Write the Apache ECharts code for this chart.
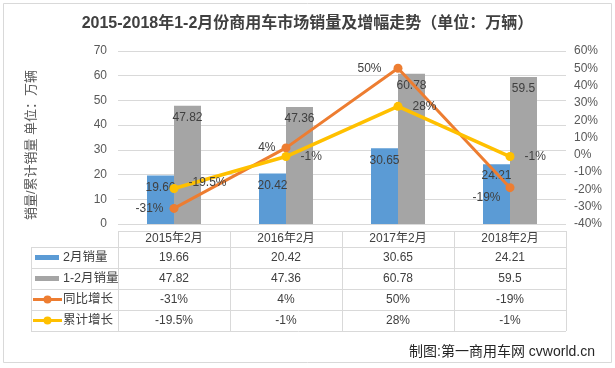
<!DOCTYPE html>
<html>
<head>
<meta charset="utf-8">
<script src="https://cdn.jsdelivr.net/npm/echarts@6/dist/echarts.min.js"></script>
<style>html,body{margin:0;padding:0;background:#fff}#c{width:615px;height:368px}</style>
</head>
<body>
<div id="c"></div>
<script>
var categories = ['2015年2月', '2016年2月', '2017年2月', '2018年2月'];
var febSales = [19.66, 20.42, 30.65, 24.21];
var janFebSales = [47.82, 47.36, 60.78, 59.5];
var yoyGrowth = [-31, 4, 50, -19];
var cumGrowth = [-19.5, -1, 28, -1];
var seriesNames = ['2月销量', '1-2月销量', '同比增长', '累计增长'];
var yAxisTitle = '销量/累计销量 单位：万辆';

var FONT = "'Liberation Sans','Noto Sans CJK SC',sans-serif";
var TXT = '#404040';
var AX = '#595959';
var GRID = '#d9d9d9';
var COLORS = ['#5B9BD5', '#A5A5A5', '#ED7D31', '#FFC000'];

var G = {left: 118, right: 566, top: 51, bottom: 224};
var rowTops = [231, 247, 268, 289, 310, 331];
var tableLeft = 31;

var chart = echarts.init(document.getElementById('c'), null, {renderer: 'canvas'});

var graphics = [];
graphics.push({type: 'rect', shape: {x: 3.5, y: 3.5, width: 608, height: 359}, style: {fill: null, stroke: GRID, lineWidth: 1}, silent: true});
graphics.push({type: 'line', shape: {x1: G.left, y1: rowTops[0] + 0.5, x2: G.right, y2: rowTops[0] + 0.5}, style: {stroke: GRID, lineWidth: 1}});
for (var r = 1; r < rowTops.length; r++) {
  graphics.push({type: 'line', shape: {x1: tableLeft, y1: rowTops[r] + 0.5, x2: G.right, y2: rowTops[r] + 0.5}, style: {stroke: GRID, lineWidth: 1}});
}
graphics.push({type: 'line', shape: {x1: tableLeft + 0.5, y1: rowTops[1], x2: tableLeft + 0.5, y2: rowTops[5]}, style: {stroke: GRID, lineWidth: 1}});
var colW = (G.right - G.left) / categories.length;
for (var c = 0; c <= categories.length; c++) {
  var x = Math.round(G.left + c * colW) + 0.5;
  graphics.push({type: 'line', shape: {x1: x, y1: rowTops[0], x2: x, y2: rowTops[5]}, style: {stroke: GRID, lineWidth: 1}});
}
for (var k = 0; k < 4; k++) {
  var cy = (rowTops[k + 1] + rowTops[k + 2]) / 2;
  if (k < 2) {
    graphics.push({type: 'rect', shape: {x: 35, y: cy - 2.5, width: 24, height: 5}, style: {fill: COLORS[k]}});
  } else {
    graphics.push({type: 'line', shape: {x1: 33, y1: cy, x2: 62, y2: cy}, style: {stroke: COLORS[k], lineWidth: 3}});
    graphics.push({type: 'circle', shape: {cx: 47.5, cy: cy, r: 4}, style: {fill: COLORS[k]}});
  }
  graphics.push({type: 'text', style: {text: seriesNames[k], x: 63, y: cy, textVerticalAlign: 'middle', font: '12.5px ' + FONT, fill: TXT}});
}
graphics.push({type: 'text', rotation: Math.PI / 2, x: 31, y: 145, style: {text: yAxisTitle, x: 0, y: 0, textAlign: 'center', textVerticalAlign: 'middle', font: '13px ' + FONT, fill: AX}});
graphics.push({type: 'text', style: {text: '制图:第一商用车网 cvworld.cn', x: 595, y: 352, textAlign: 'right', textVerticalAlign: 'middle', font: '14px ' + FONT, fill: '#262626'}});

function fmtPct(v) { return v + '%'; }

var option = {
  animation: false,
  backgroundColor: '#fff',
  textStyle: {fontFamily: FONT},
  title: {
    text: '2015-2018年1-2月份商用车市场销量及增幅走势（单位：万辆）',
    left: 'center', top: 11,
    textStyle: {fontSize: 16, fontWeight: 'bold', color: '#404040', fontFamily: FONT}
  },
  grid: {left: G.left, right: 615 - G.right, top: G.top, bottom: 368 - G.bottom},
  xAxis: {
    type: 'category', data: categories,
    axisLine: {show: false}, axisTick: {show: false},
    axisLabel: {
      interval: 0, margin: 7,
      formatter: function (v, i) {
        return '{h|' + v + '}\n{v|' + febSales[i] + '}\n{v|' + janFebSales[i] + '}\n{v|' + fmtPct(yoyGrowth[i]) + '}\n{v|' + fmtPct(cumGrowth[i]) + '}';
      },
      rich: {
        h: {lineHeight: 16, fontSize: 12, color: TXT, fontFamily: FONT},
        v: {lineHeight: 21, fontSize: 12, color: TXT, fontFamily: FONT}
      }
    }
  },
  yAxis: [{
    type: 'value', min: 0, max: 70, interval: 10,
    axisLine: {show: false}, axisTick: {show: false},
    axisLabel: {margin: 11, fontSize: 12, color: AX},
    splitLine: {lineStyle: {color: GRID, width: 1}}
  }, {
    type: 'value', min: -40, max: 60, interval: 10,
    axisLine: {show: false}, axisTick: {show: false},
    axisLabel: {margin: 8, fontSize: 12, color: AX, formatter: '{value}%'},
    splitLine: {show: false}
  }],
  series: [{
    name: seriesNames[0], type: 'bar', data: febSales, barWidth: 27, barGap: '0%',
    itemStyle: {color: COLORS[0]},
    label: {show: true, position: 'insideTop', distance: 6, fontSize: 12, color: TXT}
  }, {
    name: seriesNames[1], type: 'bar', data: janFebSales, barWidth: 27, barGap: '0%',
    itemStyle: {color: COLORS[1]},
    label: {show: true, position: 'insideTop', distance: 6, fontSize: 12, color: TXT}
  }, {
    name: seriesNames[2], type: 'line', yAxisIndex: 1, data: yoyGrowth,
    symbol: 'circle', symbolSize: 9, lineStyle: {color: COLORS[2], width: 3},
    itemStyle: {color: COLORS[2]},
    label: {show: true, position: 'left', distance: 6, fontSize: 12, color: TXT, formatter: function (p) { return p.value + '%'; }},
    labelLayout: function (p) {
      if (p.dataIndex === 2) return {dx: -6};
      if (p.dataIndex === 3) return {dy: 10, dx: 1};
      return {};
    }
  }, {
    name: seriesNames[3], type: 'line', yAxisIndex: 1, data: cumGrowth,
    symbol: 'circle', symbolSize: 9, lineStyle: {color: COLORS[3], width: 3.5},
    itemStyle: {color: COLORS[3]},
    label: {show: true, position: 'right', distance: 10, fontSize: 12, color: TXT, formatter: function (p) { return p.value + '%'; }},
    labelLayout: function (p) {
      if (p.dataIndex === 0) return {dy: -6};
      return {};
    }
  }],
  graphic: graphics
};
chart.setOption(option);
</script>
</body>
</html>
